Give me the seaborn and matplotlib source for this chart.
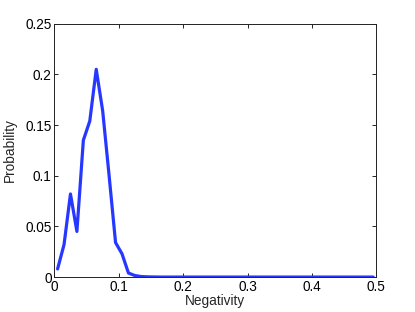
import numpy as np
import pandas as pd
import seaborn as sns
import matplotlib
matplotlib.use("Agg")
import matplotlib.pyplot as plt

# bin centres of the histogram (0.005, 0.015, ..., 0.495)
negativity = [0.005, 0.015, 0.025, 0.035, 0.045, 0.055, 0.065, 0.075, 0.085, 0.095,
              0.105, 0.115, 0.125, 0.135, 0.145, 0.155, 0.165, 0.175, 0.185, 0.195,
              0.205, 0.215, 0.225, 0.235, 0.245, 0.255, 0.265, 0.275, 0.285, 0.295,
              0.305, 0.315, 0.325, 0.335, 0.345, 0.355, 0.365, 0.375, 0.385, 0.395,
              0.405, 0.415, 0.425, 0.435, 0.445, 0.455, 0.465, 0.475, 0.485, 0.495]
probability = [0.008, 0.032, 0.082, 0.045, 0.135, 0.154, 0.205, 0.164, 0.100, 0.034,
               0.023, 0.004, 0.0015, 0.0005, 0.0002, 0.0001, 0.0, 0.0, 0.0, 0.0,
               0.0, 0.0, 0.0, 0.0, 0.0, 0.0, 0.0, 0.0, 0.0, 0.0,
               0.0, 0.0, 0.0, 0.0, 0.0, 0.0, 0.0, 0.0, 0.0, 0.0,
               0.0, 0.0, 0.0, 0.0, 0.0, 0.0, 0.0, 0.0, 0.0, 0.0]
xticks = [0, 0.1, 0.2, 0.3, 0.4, 0.5]
xticklabels = ["0", "0.1", "0.2", "0.3", "0.4", "0.5"]
yticks = [0, 0.05, 0.1, 0.15, 0.2, 0.25]
yticklabels = ["0", "0.05", "0.1", "0.15", "0.2", "0.25"]

df = pd.DataFrame({"Negativity": negativity, "Probability": probability})

sns.set_style("ticks")
plt.rcParams['font.family'] = ['Liberation Sans', 'DejaVu Sans']

fig = plt.figure(figsize=(4.15, 3.12), dpi=100)
ax = fig.add_axes([0.131, 0.112, 0.776, 0.812])
sns.lineplot(data=df, x="Negativity", y="Probability", color="#2638ff", linewidth=2.3, ax=ax)

ax.set_xlim(0, 0.5)
ax.set_ylim(0, 0.25)
ax.set_xticks(xticks)
ax.set_xticklabels(xticklabels)
ax.set_yticks(yticks)
ax.set_yticklabels(yticklabels)
ax.tick_params(direction="in", length=3, width=0.6, labelsize=9.8, top=True, right=True,
               colors="black", pad=2)
for s in ax.spines.values():
    s.set_visible(True)
    s.set_linewidth(0.7)
    s.set_color("#222222")
ax.set_xlabel("Negativity", fontsize=9.8, labelpad=0)
ax.set_ylabel("Probability", fontsize=9.8, labelpad=6)

fig.savefig("out.png", dpi=100)
